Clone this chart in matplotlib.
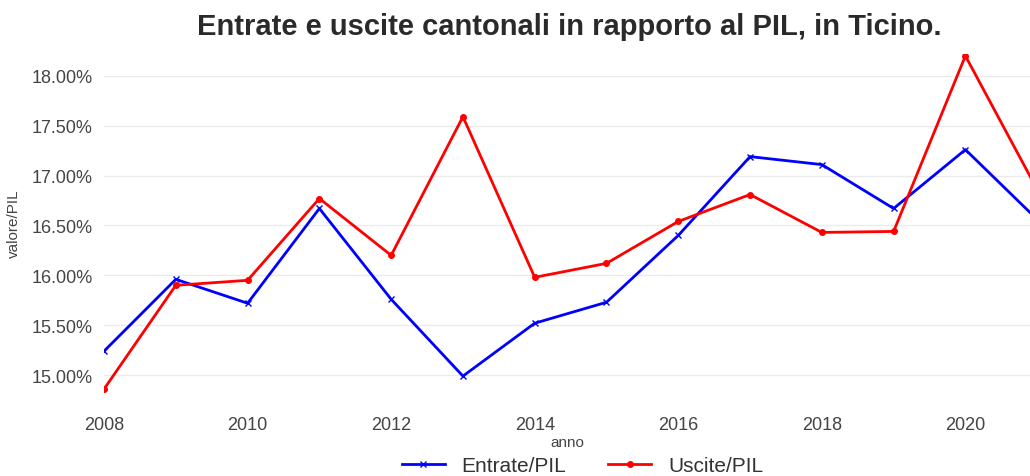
import matplotlib
matplotlib.use("Agg")
import matplotlib.pyplot as plt
from matplotlib.ticker import FuncFormatter

plt.rcParams["font.family"] = ["Liberation Sans", "DejaVu Sans"]

anni = [2008, 2009, 2010, 2011, 2012, 2013, 2014, 2015, 2016, 2017, 2018, 2019, 2020, 2021]
entrate_pil = [15.24, 15.96, 15.72, 16.67, 15.76, 14.99, 15.52, 15.73, 16.40, 17.19, 17.11, 16.67, 17.26, 16.56]
uscite_pil = [14.86, 15.90, 15.95, 16.77, 16.20, 17.59, 15.98, 16.12, 16.54, 16.81, 16.43, 16.44, 18.20, 16.86]
y_ticks = [15.0, 15.5, 16.0, 16.5, 17.0, 17.5, 18.0]
x_ticks = [2008, 2010, 2012, 2014, 2016, 2018, 2020]

fig = plt.figure(figsize=(10.3, 4.77), dpi=100)
ax = fig.add_axes([0.101, 0.176, 0.899, 0.709])

ax.plot(anni, entrate_pil, color="blue", lw=2, marker="x", ms=4, mew=1, label="Entrate/PIL")
ax.plot(anni, uscite_pil, color="red", lw=2, marker="o", ms=4, label="Uscite/PIL")

ax.set_xlim(2008, 2020.9)
ax.set_ylim(14.83, 18.22)
ax.set_xticks(x_ticks)
ax.set_yticks(y_ticks)
ax.yaxis.set_major_formatter(FuncFormatter(lambda v, p: f"{v:.2f}%"))
ax.tick_params(length=0, labelsize=13, colors="#444444")
ax.tick_params(axis="x", pad=17)
ax.tick_params(axis="y", pad=8)
ax.grid(axis="y", color="#ebebeb", lw=1)
ax.set_axisbelow(True)
for s in ax.spines.values():
    s.set_visible(False)

ax.set_xlabel("anno", fontsize=11, color="#444444", labelpad=2)
ax.set_ylabel("valore/PIL", fontsize=11, color="#444444", labelpad=8)
fig.text(0.553, 0.943, "Entrate e uscite cantonali in rapporto al PIL, in Ticino.",
         ha="center", va="center", fontsize=21, fontweight="bold", color="#2a2a2a")

leg = fig.legend(loc="center", bbox_to_anchor=(0.5655, 0.022), ncol=2, frameon=False,
                 fontsize=15, handlelength=2.07, handletextpad=0.8, columnspacing=2.0)
for t in leg.get_texts():
    t.set_color("#333333")

fig.savefig("out.png", dpi=100)
